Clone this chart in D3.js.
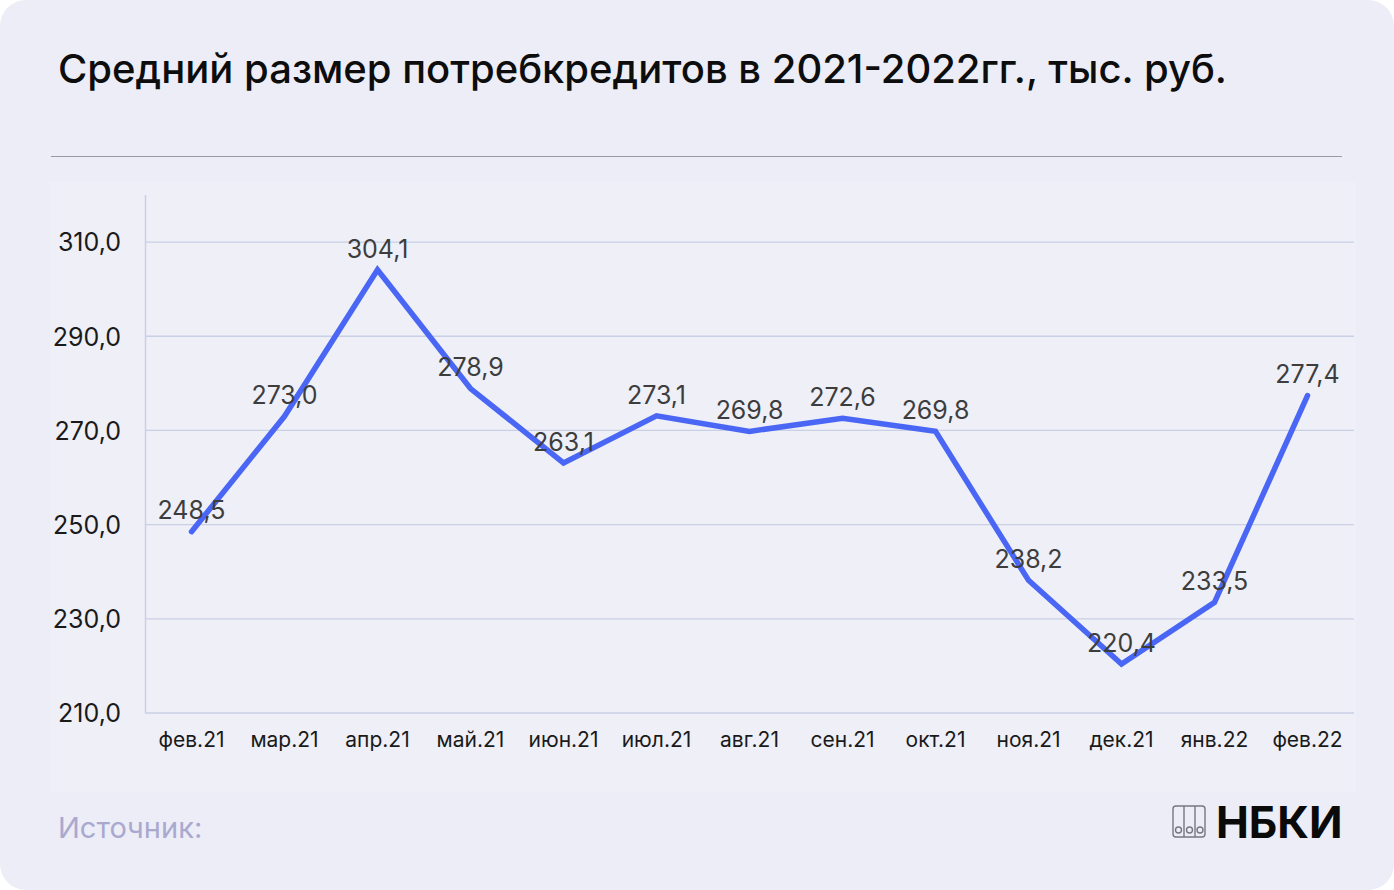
<!DOCTYPE html>
<html><head><meta charset="utf-8">
<script src="https://cdn.jsdelivr.net/npm/d3@7"></script>
<style>
html,body{margin:0;padding:0;background:#fff;}
svg{display:block;font-family:Inter,"Noto Sans",sans-serif;}
</style></head>
<body>
<svg id="c" width="1394" height="890"></svg>
<script>
const categories = ["фев.21","мар.21","апр.21","май.21","июн.21","июл.21","авг.21","сен.21","окт.21","ноя.21","дек.21","янв.22","фев.22"];
const values = [248.5,273.0,304.1,278.9,263.1,273.1,269.8,272.6,269.8,238.2,220.4,233.5,277.4];
const yTicks = [210,230,250,270,290,310];
const title = "Средний размер потребкредитов в 2021-2022гг., тыс. руб.";
const fmt = v => v.toFixed(1).replace(".", ",");

const svg = d3.select("#c");
svg.append("rect").attr("x",0).attr("y",0).attr("width",1394).attr("height",890).attr("rx",26).attr("fill","#ECEDF6");
svg.append("text").attr("x",58).attr("y",83).attr("font-size",40).attr("font-weight",500).attr("fill","#0d0d0d").text(title);
svg.append("line").attr("x1",51).attr("x2",1342).attr("y1",156.5).attr("y2",156.5).attr("stroke","#9a9aa6").attr("stroke-width",1.2);
svg.append("rect").attr("x",50).attr("y",182).attr("width",1306).attr("height",610).attr("fill","#EEEFF7");

const x = d3.scaleBand().domain(categories).range([145,1354]);
const y = d3.scaleLinear().domain([210,320]).range([713,195]);

const g = svg.append("g");
g.selectAll("line.grid").data(yTicks).join("line").attr("class","grid")
  .attr("x1",145).attr("x2",1354).attr("y1",d=>y(d)).attr("y2",d=>y(d))
  .attr("stroke","#C9D0E6").attr("stroke-width",1.3);
g.append("line").attr("x1",145.5).attr("x2",145.5).attr("y1",y(320)).attr("y2",y(210)).attr("stroke","#C9D0E6").attr("stroke-width",1.5);

const yAxis = d3.axisLeft(y).tickValues(yTicks).tickFormat(fmt).tickSize(0).tickPadding(24);
const ya = svg.append("g").attr("transform","translate(145,0)").call(yAxis);
ya.select(".domain").remove();
ya.selectAll("text").attr("font-size",25).attr("fill","#1a1a1a").attr("font-family","Inter,sans-serif").attr("dy","0.35em");

const xAxis = d3.axisBottom(x).tickSize(0).tickPadding(19);
const xa = svg.append("g").attr("transform","translate(0,713)").call(xAxis);
xa.select(".domain").remove();
xa.selectAll("text").attr("font-size",21).attr("fill","#1a1a1a").attr("font-family","Inter,sans-serif");

const cx = (d,i) => x(categories[i]) + x.bandwidth()/2;
const line = d3.line().x((d,i)=>cx(d,i)).y(d=>y(d));
svg.append("path").datum(values).attr("d",line).attr("fill","none")
  .attr("stroke","#4A66F4").attr("stroke-width",5.5).attr("stroke-linejoin","miter").attr("stroke-linecap","round");

svg.append("g").selectAll("text").data(values).join("text")
  .attr("x",(d,i)=>cx(d,i)).attr("y",d=>y(d)-21).attr("dy","0.35em")
  .attr("text-anchor","middle").attr("font-size",25).attr("fill","#3d3d3d").text(fmt);

svg.append("text").attr("x",58).attr("y",838).attr("font-size",29).attr("fill","#A9A9CF").text("Источник:");

const lg = svg.append("g").attr("fill","none").attr("stroke","#77777f").attr("stroke-width",1.4);
lg.append("rect").attr("x",1173).attr("y",806).attr("width",32).attr("height",31).attr("rx",3);
[1184,1195].forEach(xx=>lg.append("line").attr("x1",xx).attr("x2",xx).attr("y1",806).attr("y2",837));
[1178.5,1189.5,1200].forEach(xx=>lg.append("circle").attr("cx",xx).attr("cy",830).attr("r",3));
svg.append("text").attr("x",1216).attr("y",838).attr("font-size",44).attr("font-weight",700).attr("fill","#0a0a0a").text("НБКИ");
</script>
</body></html>
